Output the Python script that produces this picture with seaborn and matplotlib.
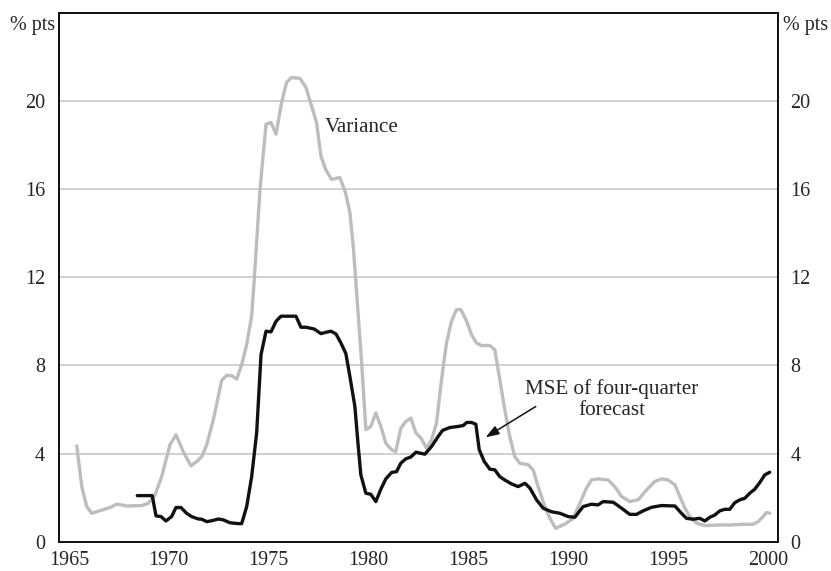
import matplotlib
matplotlib.use("Agg")
import matplotlib.pyplot as plt
import seaborn as sns
import pandas as pd
import numpy as np

# ---------------- data ----------------
variance_year = [1965.39, 1965.64, 1965.89, 1966.14, 1967.05, 1967.39, 1967.64, 1967.89, 1968.64, 1968.97,
                 1969.31, 1969.64, 1970.06, 1970.36, 1970.72, 1971.11, 1971.40, 1971.65, 1971.90, 1972.23,
                 1972.65, 1972.90, 1973.15, 1973.40, 1973.65, 1973.90, 1974.15, 1974.25, 1974.57, 1974.87,
                 1975.12, 1975.37, 1975.65, 1975.90, 1976.15, 1976.57, 1976.87, 1977.15, 1977.40, 1977.62,
                 1977.85, 1978.15, 1978.57, 1978.85, 1979.07, 1979.24, 1979.40, 1979.66, 1979.87, 1980.12,
                 1980.37, 1980.62, 1980.87, 1981.16, 1981.37, 1981.62, 1981.87, 1982.12, 1982.38, 1982.63,
                 1982.91, 1983.16, 1983.41, 1983.66, 1983.91, 1984.16, 1984.41, 1984.63, 1984.92, 1985.16,
                 1985.41, 1985.66, 1986.08, 1986.33, 1986.58, 1986.83, 1987.08, 1987.33, 1987.58, 1988.00,
                 1988.25, 1988.50, 1988.84, 1989.09, 1989.37, 1989.84, 1990.25, 1990.59, 1990.92, 1991.17,
                 1991.50, 1992.01, 1992.34, 1992.68, 1993.09, 1993.51, 1993.93, 1994.34, 1994.68, 1995.01,
                 1995.35, 1995.60, 1995.85, 1996.10, 1996.43, 1996.85, 1997.68, 1998.18, 1998.68, 1999.27,
                 1999.52, 1999.77, 1999.93, 2000.10]
variance_val = [4.35, 2.50, 1.59, 1.29, 1.55, 1.70, 1.67, 1.62, 1.64, 1.74,
                2.12, 2.95, 4.40, 4.85, 4.09, 3.44, 3.64, 3.86, 4.40, 5.53,
                7.32, 7.55, 7.53, 7.38, 8.03, 8.94, 10.23, 11.50, 15.99, 18.94,
                19.02, 18.49, 19.93, 20.84, 21.06, 21.02, 20.61, 19.77, 19.02, 17.50,
                16.90, 16.44, 16.52, 15.84, 14.93, 13.41, 11.40, 8.11, 5.08, 5.23,
                5.84, 5.23, 4.47, 4.17, 4.09, 5.15, 5.45, 5.61, 4.93, 4.70,
                4.24, 4.62, 5.38, 7.35, 9.02, 10.00, 10.53, 10.53, 10.00, 9.40,
                9.02, 8.90, 8.90, 8.71, 7.35, 5.99, 4.77, 3.86, 3.56, 3.49,
                3.26, 2.50, 1.59, 1.06, 0.61, 0.80, 1.06, 1.74, 2.43, 2.80,
                2.85, 2.80, 2.50, 2.05, 1.82, 1.90, 2.35, 2.73, 2.85, 2.80,
                2.58, 2.05, 1.52, 1.14, 0.84, 0.73, 0.76, 0.76, 0.79, 0.79,
                0.91, 1.14, 1.32, 1.29]

mse_year = [1968.42, 1969.17, 1969.36, 1969.61, 1969.86, 1970.14, 1970.36, 1970.61, 1970.89, 1971.14,
            1971.48, 1971.65, 1971.90, 1972.15, 1972.48, 1972.73, 1973.06, 1973.48, 1973.65, 1973.90,
            1974.15, 1974.40, 1974.62, 1974.87, 1975.12, 1975.37, 1975.62, 1976.37, 1976.62, 1976.87,
            1977.28, 1977.62, 1977.87, 1978.12, 1978.37, 1978.62, 1978.87, 1979.07, 1979.32, 1979.49,
            1979.62, 1979.87, 1980.12, 1980.37, 1980.62, 1980.87, 1981.16, 1981.41, 1981.62, 1981.87,
            1982.12, 1982.38, 1982.83, 1983.16, 1983.49, 1983.71, 1984.08, 1984.50, 1984.75, 1984.92,
            1985.16, 1985.38, 1985.55, 1985.80, 1986.08, 1986.33, 1986.58, 1986.83, 1987.17, 1987.50,
            1987.84, 1988.09, 1988.42, 1988.75, 1989.17, 1989.59, 1990.00, 1990.34, 1990.75, 1991.17,
            1991.50, 1991.76, 1992.26, 1992.68, 1993.09, 1993.43, 1993.76, 1994.18, 1994.68, 1995.35,
            1995.68, 1995.93, 1996.26, 1996.60, 1996.85, 1997.10, 1997.35, 1997.60, 1997.85, 1998.10,
            1998.35, 1998.60, 1998.85, 1999.10, 1999.35, 1999.60, 1999.85, 2000.10]
mse_val = [2.09, 2.09, 1.17, 1.14, 0.94, 1.14, 1.55, 1.55, 1.29, 1.14,
           1.03, 1.02, 0.91, 0.95, 1.03, 0.99, 0.86, 0.82, 0.82, 1.59,
           2.95, 4.93, 8.49, 9.55, 9.52, 10.00, 10.23, 10.23, 9.73, 9.73,
           9.65, 9.44, 9.50, 9.55, 9.43, 9.02, 8.53, 7.50, 6.14, 4.32,
           3.03, 2.20, 2.15, 1.82, 2.38, 2.85, 3.14, 3.18, 3.56, 3.76,
           3.84, 4.06, 3.97, 4.32, 4.77, 5.05, 5.18, 5.23, 5.27, 5.41,
           5.41, 5.33, 4.17, 3.64, 3.29, 3.26, 2.95, 2.80, 2.62, 2.50,
           2.65, 2.43, 1.90, 1.52, 1.36, 1.29, 1.14, 1.11, 1.59, 1.70,
           1.67, 1.82, 1.79, 1.52, 1.24, 1.24, 1.40, 1.56, 1.64, 1.62,
           1.29, 1.06, 1.02, 1.06, 0.94, 1.11, 1.21, 1.40, 1.47, 1.47,
           1.77, 1.90, 1.97, 2.20, 2.38, 2.68, 3.03, 3.15]

year_labels = [1965, 1970, 1975, 1980, 1985, 1990, 1995, 2000]
y_ticks = [0, 4, 8, 12, 16, 20]

# ---------------- style ----------------
sns.set_style("white")
plt.rcParams['font.family'] = ['Liberation Serif', 'DejaVu Serif']
FS = 14.5
FA = 15.2

fig = plt.figure(figsize=(8.31, 5.71), dpi=100)
ax = fig.add_axes([59 / 831, (571 - 541.7) / 571, (777.7 - 59) / 831, (541.7 - 12.7) / 571])

var_df = pd.DataFrame({"year": variance_year, "value": variance_val})
mse_df = pd.DataFrame({"year": mse_year, "value": mse_val})

# gridlines
for yv in y_ticks[1:]:
    ax.axhline(yv, color="#c4c4c4", lw=1.1, zorder=0)

sns.lineplot(data=var_df, x="year", y="value", ax=ax, color="#bdbdbd", lw=2.4,
             estimator=None, sort=False, zorder=2)
sns.lineplot(data=mse_df, x="year", y="value", ax=ax, color="#111111", lw=2.4,
             estimator=None, sort=False, zorder=3)

ax.set_xlim(1964.5, 2000.5)
ax.set_ylim(0, 24)
ax.set_xlabel("")
ax.set_ylabel("")

ax.set_xticks(year_labels)
ax.set_xticklabels([str(y) for y in year_labels], fontsize=FS)
ax.set_xticks(np.arange(1965.5, 2000.0, 1.0), minor=True)
ax.tick_params(axis="x", which="major", length=0, pad=6.5)
ax.tick_params(axis="x", which="minor", direction="in", length=7.5, width=1.0, color="#111111")

ax.set_yticks(y_ticks)
ax.set_yticklabels([str(v) for v in y_ticks], fontsize=FS)
ax.tick_params(axis="y", which="major", length=0, pad=10)

for sp in ax.spines.values():
    sp.set_color("#111111")
    sp.set_linewidth(1.3)

ax2 = ax.twinx()
ax2.set_ylim(0, 24)
ax2.set_yticks(y_ticks)
ax2.set_yticklabels([str(v) for v in y_ticks], fontsize=FS)
ax2.tick_params(axis="y", which="major", length=0, pad=9)
for sp in ax2.spines.values():
    sp.set_color("#111111")
    sp.set_linewidth(1.3)

# unit labels
ax.text(-0.006, 0.976, "% pts", transform=ax.transAxes, ha="right", va="center", fontsize=FS)
ax.text(1.007, 0.976, "% pts", transform=ax.transAxes, ha="left", va="center", fontsize=FS)

# annotations
ax.text(1977.82, 18.8, "Variance", ha="left", va="center", fontsize=FA)
ax.annotate("", xy=(1985.75, 4.67), xytext=(1988.5, 6.2),
            arrowprops=dict(arrowstyle="-|>,head_length=0.8,head_width=0.28", color="#111111", lw=1.1))
ax.text(1992.2, 6.45, "MSE of four-quarter\nforecast", ha="center", va="center",
        fontsize=FA, linespacing=1.1)

fig.savefig("out.png", dpi=100)
